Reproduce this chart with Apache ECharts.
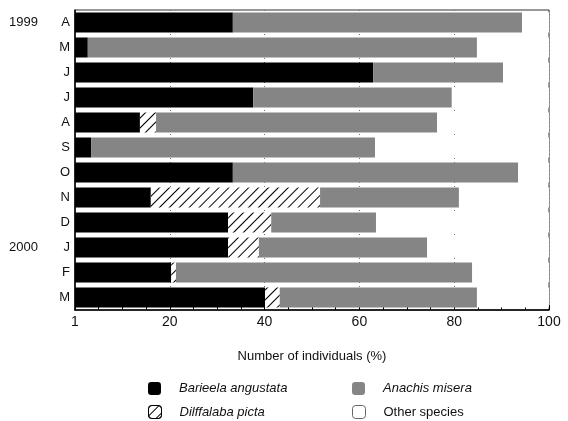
<!DOCTYPE html>
<html><head><meta charset="utf-8">
<script src="https://cdn.jsdelivr.net/npm/echarts@6/dist/echarts.min.js"></script>
<style>html,body{margin:0;padding:0;background:#fff}#c{width:568px;height:421px}</style>
</head><body><div id="c"></div>
<script>
const months = ['A','M','J','J','A','S','O','N','D','J','F','M'];
const years = ['1999','','','','','','','','','2000','',''];
const barieela = [33.3, 2.7, 62.9, 37.6, 13.7, 3.4, 33.3, 16.0, 32.3, 32.3, 20.3, 40.1];
const dilffalaba = [0, 0, 0, 0, 3.4, 0, 0, 35.7, 9.1, 6.5, 1.0, 3.1];
const anachis = [61.0, 82.1, 27.4, 41.9, 59.3, 59.9, 60.2, 29.3, 22.1, 35.5, 62.5, 41.6];
const other = [5.7, 15.2, 9.7, 20.5, 23.6, 36.7, 6.5, 19.0, 36.5, 25.7, 16.2, 15.2];
const tickValues = [0, 20, 40, 60, 80, 100];
const tickLabels = ['1', '20', '40', '60', '80', '100'];
const seriesNames = ['Barieela angustata', 'Dilffalaba picta', 'Anachis misera', 'Other species'];

const font = 'Liberation Sans, Arial, sans-serif';
const chart = echarts.init(document.getElementById('c'));
const hatch = {symbol:'rect', symbolSize:1, color:'#000', dashArrayX:[1,0], dashArrayY:[0.8,6], rotation:-Math.PI/4};
const legendPos = [[143,377],[143,400],[347,377],[347,400]];
const legendExtra = [
  {},
  {itemStyle:{borderColor:'#000', borderWidth:1}},
  {},
  {itemStyle:{borderColor:'#666', borderWidth:1}}
];
const italic = [true, true, true, false];
chart.setOption({
  animation:false,
  grid:{left:75, right:19, top:10, bottom:111, show:true, borderColor:'#333', borderWidth:1},
  xAxis:{type:'value', min:0, max:100, interval:20,
    axisLine:{show:true, lineStyle:{color:'#000', width:1.5}},
    axisTick:{show:true, inside:true, length:5, lineStyle:{color:'#000'}},
    minorTick:{show:true, splitNumber:4, length:3, lineStyle:{color:'#000'}},
    splitLine:{show:true, lineStyle:{color:'#777', type:[1,3], width:1}},
    axisLabel:{color:'#111', fontFamily:font, fontSize:14, margin:5,
      formatter:v => tickLabels[tickValues.indexOf(v)]},
    name:'Number of individuals (%)', nameLocation:'middle', nameGap:40,
    nameTextStyle:{color:'#111', fontFamily:font, fontSize:13}},
  yAxis:[
    {type:'category', data:months, inverse:true,
      axisLine:{show:true, lineStyle:{color:'#000', width:1.5}}, axisTick:{show:false},
      axisLabel:{color:'#111', fontFamily:font, fontSize:13, margin:5}},
    {type:'category', data:years, inverse:true, position:'left',
      axisLine:{show:false}, axisTick:{show:false},
      axisLabel:{color:'#111', fontFamily:font, fontSize:13, margin:37, interval:0}}
  ],
  legend: seriesNames.map((n, i) => ({
    left:legendPos[i][0], top:legendPos[i][1], itemWidth:13, itemHeight:13, itemGap:0,
    textStyle:{fontFamily:font, fontSize:13, color:'#111', fontStyle: italic[i] ? 'italic' : 'normal', padding:[0,0,0,13]},
    data:[Object.assign({name:n}, legendExtra[i])]
  })),
  series:[
    {name:seriesNames[0], type:'bar', stack:'s', data:barieela, barCategoryGap:'20%', itemStyle:{color:'#000'}},
    {name:seriesNames[1], type:'bar', stack:'s', data:dilffalaba, itemStyle:{color:'#fff', decal:hatch}},
    {name:seriesNames[2], type:'bar', stack:'s', data:anachis, itemStyle:{color:'#858585'}},
    {name:seriesNames[3], type:'bar', stack:'s', data:other, itemStyle:{color:'#fff'}}
  ]
});
</script></body></html>
